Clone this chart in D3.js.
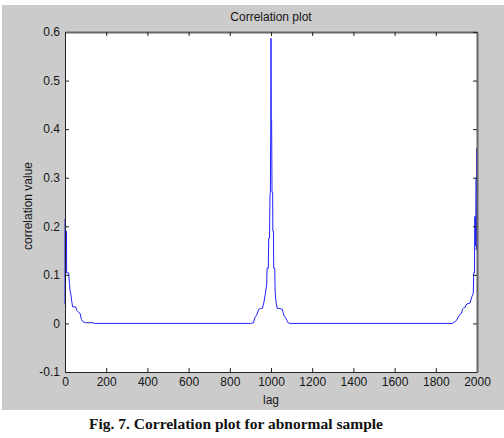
<!DOCTYPE html>
<html>
<head>
<meta charset="utf-8">
<script src="https://cdn.jsdelivr.net/npm/d3@7"></script>
<style>
  body { margin: 0; background: #fff; }
  svg { display: block; }
</style>
</head>
<body>
<script>
// values
const lags = [
  0, 1, 2, 5, 6, 7, 8, 18, 22, 24, 28, 33, 37, 52, 57, 68, 73, 80, 89, 100, 137, 140,
  900, 914, 922, 930, 940, 950, 958, 966, 972, 979, 981, 987, 989, 993, 995, 997, 999,
  1000, 1001, 1003, 1005, 1008, 1009, 1012, 1013, 1018, 1020, 1024, 1030, 1040, 1055,
  1062, 1070, 1078, 1084, 1090,
  1880, 1885, 1895, 1901, 1912, 1920, 1925, 1930, 1935, 1942, 1950, 1966, 1975, 1982,
  1984, 1988, 1989, 1992, 1994, 1996, 1997, 1998, 1999
];
const corr = [
  0.215, 0.04, 0.19, 0.19, 0.15, 0.19, 0.104, 0.104, 0.08, 0.069, 0.06, 0.045, 0.034,
  0.034, 0.027, 0.022, 0.021, 0.008, 0.003, 0.0015, 0.0015, 0,
  0, 0.001, 0.012, 0.017, 0.029, 0.031, 0.031, 0.044, 0.06, 0.079, 0.114, 0.114, 0.176,
  0.176, 0.264, 0.27, 0.42,
  0.587, 0.42, 0.42, 0.27, 0.27, 0.19, 0.19, 0.114, 0.114, 0.065, 0.045, 0.031, 0.031,
  0.029, 0.017, 0.012, 0.006, 0.001, 0,
  0, 0.0015, 0.004, 0.007, 0.015, 0.02, 0.021, 0.03, 0.032, 0.033, 0.04, 0.042, 0.055,
  0.062, 0.104, 0.104, 0.22, 0.22, 0.16, 0.3, 0.151, 0.36, 0.151
];
const xTicks = [0, 200, 400, 600, 800, 1000, 1200, 1400, 1600, 1800, 2000];
const yTicks = [-0.1, 0, 0.1, 0.2, 0.3, 0.4, 0.5, 0.6];
const yTickLabels = ["-0.1", "0", "0.1", "0.2", "0.3", "0.4", "0.5", "0.6"];

const width = 504;
const height = 438;
const margin = { top: 32, right: 27, bottom: 66, left: 65 };

const x = d3.scaleLinear().domain([0, 2000]).range([margin.left, width - margin.right]);
const y = d3.scaleLinear().domain([-0.1, 0.6]).range([height - margin.bottom, margin.top]);

const svg = d3.select("body").append("svg")
  .attr("width", width)
  .attr("height", height)
  .attr("font-family", "Liberation Sans, Arial, sans-serif");

// grey figure background
svg.append("rect")
  .attr("x", 2).attr("y", 5)
  .attr("width", width - 2).attr("height", 405)
  .attr("fill", "#cbcbcb");

svg.append("rect")
  .attr("x", x(0)).attr("y", y(0.6))
  .attr("width", x(2000) - x(0)).attr("height", y(-0.1) - y(0.6))
  .attr("fill", "#fff");

const line = d3.line()
  .x((d, i) => x(lags[i]))
  .y((d) => y(d));

svg.append("path")
  .datum(corr)
  .attr("fill", "none")
  .attr("stroke", "#2020ff")
  .attr("stroke-width", 1)
  .attr("d", line);

const styleAxis = (g) => {
  g.select(".domain").attr("stroke", "#222");
  g.selectAll(".tick line").attr("stroke", "#222");
  g.selectAll(".tick text").attr("fill", "#151515").attr("font-size", 12);
};

svg.append("g")
  .attr("transform", `translate(0,${y(-0.1)})`)
  .call(d3.axisBottom(x).tickValues(xTicks).tickSize(-4).tickSizeOuter(0).tickPadding(5)
    .tickFormat((d) => String(d)))
  .call(styleAxis);

svg.append("g")
  .attr("transform", `translate(${x(0)},0)`)
  .call(d3.axisLeft(y).tickValues(yTicks).tickSize(-4).tickSizeOuter(0).tickPadding(5)
    .tickFormat((d, i) => yTickLabels[i]))
  .call(styleAxis);

svg.append("g")
  .attr("transform", `translate(0,${y(0.6)})`)
  .call(d3.axisTop(x).tickValues(xTicks).tickSize(-4).tickSizeOuter(0).tickFormat(""))
  .call(styleAxis)
  .call((g) => g.select(".domain").attr("stroke", "#666").attr("stroke-width", 2));

svg.append("g")
  .attr("transform", `translate(${x(2000)},0)`)
  .call(d3.axisRight(y).tickValues(yTicks).tickSize(-4).tickSizeOuter(0).tickFormat(""))
  .call(styleAxis)
  .call((g) => g.select(".domain").attr("stroke", "#666").attr("stroke-width", 2));

svg.append("text")
  .attr("x", x(1000)).attr("y", 21)
  .attr("text-anchor", "middle")
  .attr("font-size", 12)
  .attr("fill", "#151515")
  .text("Correlation plot");

svg.append("text")
  .attr("x", x(1000)).attr("y", 404)
  .attr("text-anchor", "middle")
  .attr("font-size", 12)
  .attr("fill", "#151515")
  .text("lag");

svg.append("text")
  .attr("transform", `translate(32,${(y(-0.1) + y(0.6)) / 2 + 4}) rotate(-90)`)
  .attr("text-anchor", "middle")
  .attr("font-size", 12)
  .attr("fill", "#151515")
  .text("correlation value");

svg.append("text")
  .attr("x", 236).attr("y", 429)
  .attr("text-anchor", "middle")
  .attr("font-family", "Liberation Serif, Times New Roman, serif")
  .attr("font-weight", "bold")
  .attr("font-size", 15.5)
  .attr("fill", "#111")
  .text("Fig. 7. Correlation plot for abnormal sample");
</script>
</body>
</html>
